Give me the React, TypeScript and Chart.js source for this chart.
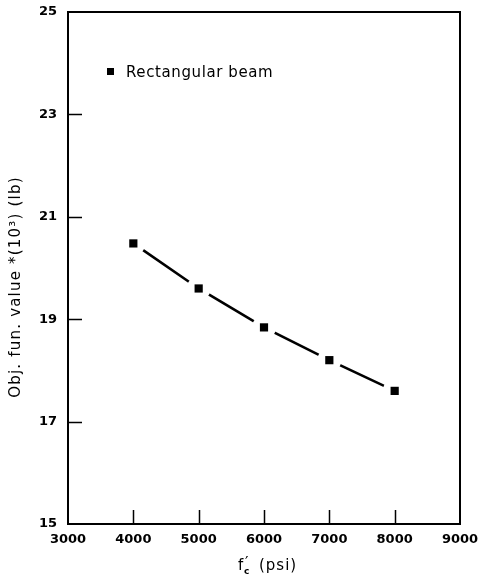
import React, { useEffect, useRef } from "react";
import { Chart, registerables } from "chart.js";

Chart.register(...registerables);

// Concrete strength f'c (psi) and objective function value (10^3 lb)
const strengths = [4000, 5000, 6000, 7000, 8000];
const objValues = [20.48, 19.6, 18.84, 18.2, 17.6];
const seriesLabel = "Rectangular beam";

const xTickMarks = [4000, 5000, 6000, 7000, 8000];
const yTickMarks = [17, 19, 21, 23];

const FONT = "'DejaVu Sans', sans-serif";

const frameAndText = {
  id: "frameAndText",
  afterDraw(chart: any) {
    const { ctx, chartArea: a, scales } = chart;
    const x = scales.x;
    const y = scales.y;
    ctx.save();
    ctx.strokeStyle = "#000";
    ctx.fillStyle = "#000";

    // plot frame
    ctx.lineWidth = 2;
    ctx.strokeRect(a.left, a.top, a.right - a.left, a.bottom - a.top);

    // inward tick marks
    ctx.lineWidth = 1.5;
    ctx.beginPath();
    for (const v of xTickMarks) {
      const px = Math.round(x.getPixelForValue(v)) + 0.5;
      ctx.moveTo(px, a.bottom);
      ctx.lineTo(px, a.bottom - 14);
    }
    for (const v of yTickMarks) {
      const py = Math.round(y.getPixelForValue(v)) + 0.5;
      ctx.moveTo(a.left, py);
      ctx.lineTo(a.left + 14, py);
    }
    ctx.stroke();

    // legend entry
    ctx.fillRect(107, 68, 7, 7);
    ctx.font = `15px ${FONT}`;
    (ctx as any).letterSpacing = "0.6px";
    ctx.textBaseline = "alphabetic";
    ctx.textAlign = "left";
    ctx.fillText(chart.data.datasets[1].label, 126, 77);

    // x-axis title: f'c (psi)
    (ctx as any).letterSpacing = "1px";
    ctx.font = `15px ${FONT}`;
    const tx = 238;
    const ty = 570;
    ctx.fillText("f", tx, ty);
    ctx.font = `15px ${FONT}`;
    ctx.fillText("′", tx + 7, ty - 2);
    ctx.font = `bold 9px ${FONT}`;
    ctx.fillText("c", tx + 6, ty + 4);
    ctx.font = `15px ${FONT}`;
    ctx.fillText("(psi)", tx + 21, ty);

    // y-axis title
    ctx.translate(16, 287);
    ctx.rotate(-Math.PI / 2);
    ctx.textAlign = "center";
    ctx.textBaseline = "middle";
    (ctx as any).letterSpacing = "1.2px";
    ctx.font = `15px ${FONT}`;
    ctx.fillText("Obj. fun. value *(10³) (lb)", 0, 0);

    ctx.restore();
  },
};

export default function App() {
  const canvasRef = useRef<HTMLCanvasElement | null>(null);

  useEffect(() => {
    const canvas = canvasRef.current;
    if (!canvas) return;
    const points = strengths.map((s, i) => ({ x: s, y: objValues[i] }));
    const chart = new Chart(canvas, {
      type: "line",
      data: {
        datasets: [
          {
            // connecting line, broken around each marker
            label: "line",
            data: points,
            borderColor: "#000",
            borderWidth: 2.6,
            tension: 0,
            pointStyle: "circle",
            pointRadius: 12,
            pointBackgroundColor: "#fff",
            pointBorderWidth: 0,
            order: 2,
          },
          {
            label: seriesLabel,
            data: points,
            showLine: false,
            pointStyle: "rect",
            pointRadius: 5.8,
            pointBackgroundColor: "#000",
            pointBorderColor: "#000",
            pointBorderWidth: 0,
            order: 1,
          },
        ],
      },
      options: {
        responsive: false,
        animation: false,
        layout: { padding: { top: 11, right: 21, left: 0, bottom: 0 } },
        plugins: {
          legend: { display: false },
          tooltip: { enabled: false },
        },
        scales: {
          x: {
            type: "linear",
            min: 3000,
            max: 9000,
            grid: { display: false, drawTicks: false },
            border: { display: false },
            ticks: {
              stepSize: 1000,
              padding: 8,
              color: "#000",
              font: { family: FONT, size: 13, weight: "bold" },
              callback: (v: any) => String(v),
            },
            afterFit: (scale: any) => {
              scale.height = 55;
              scale.paddingLeft = 0;
              scale.paddingRight = 0;
            },
          },
          y: {
            type: "linear",
            min: 15,
            max: 25,
            grid: { display: false, drawTicks: false },
            border: { display: false },
            ticks: {
              stepSize: 2,
              padding: 11,
              color: "#000",
              font: { family: FONT, size: 13, weight: "bold" },
              callback: (v: any) => String(v),
            },
            afterFit: (scale: any) => {
              scale.width = 68;
              scale.paddingTop = 0;
              scale.paddingBottom = 0;
            },
          },
        },
      },
      plugins: [frameAndText],
    });
    return () => chart.destroy();
  }, []);

  return (
    <div style={{ position: "absolute", left: 0, top: 0, width: 481, height: 579, background: "#fff" }}>
      <canvas ref={canvasRef} width={481} height={579} />
    </div>
  );
}
